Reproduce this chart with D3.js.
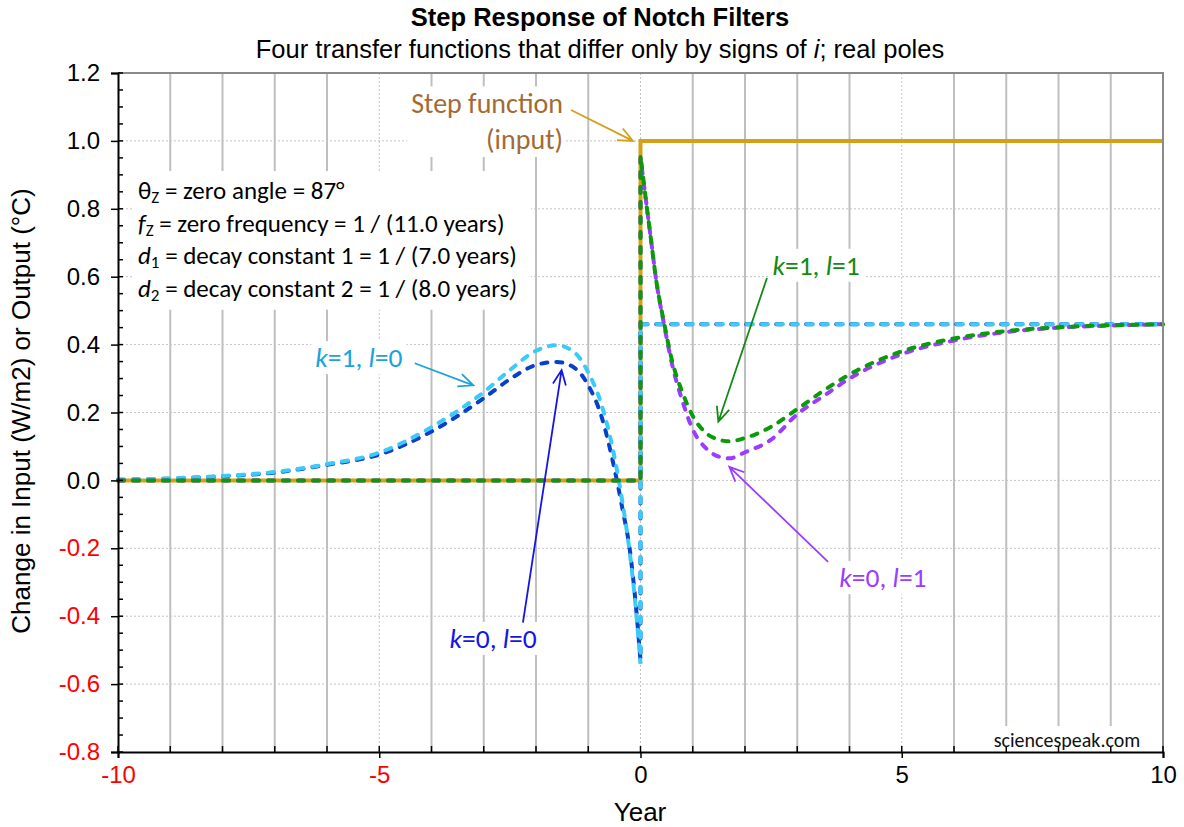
<!DOCTYPE html>
<html>
<head>
<meta charset="utf-8">
<script src="https://cdn.jsdelivr.net/npm/d3@7"></script>
<style>
  body { margin: 0; background: #fff; }
  svg { display: block; }
  .arial { font-family: "Liberation Sans", Arial, sans-serif; }
  .cal { font-family: Carlito, Calibri, Lato, sans-serif; }
</style>
</head>
<body>
<svg id="chart" width="1184" height="827"></svg>
<script>
// step input
var stepYears = [-10, 0, 0, 10];
var stepValues = [0, 0, 1, 1];

// anticausal responses (l = 0): zero before the step is replaced by a run-up
var anticausalYears = [-10, -9, -8, -7, -6, -5, -4, -3, -2.5, -2, -1.6, -1.25, -1, -0.75, -0.5, -0.35, -0.2, -0.1, 0, 0, 10];
var k1l0Values = [0.002, 0.006, 0.013, 0.025, 0.048, 0.082, 0.157, 0.26, 0.325, 0.382, 0.398, 0.375, 0.318, 0.225, 0.07, -0.06, -0.22, -0.36, -0.54, 0.46, 0.46];
var k0l0Values = [0.002, 0.005, 0.012, 0.023, 0.046, 0.076, 0.144, 0.242, 0.298, 0.34, 0.349, 0.33, 0.28, 0.19, 0.035, -0.08, -0.21, -0.35, -0.53, 0.46, 0.46];

// causal responses (l = 1)
var causalYears = [-10, 0, 0, 0.1, 0.2, 0.3, 0.45, 0.6, 0.8, 1, 1.25, 1.5, 1.7, 2, 2.5, 3, 3.5, 4, 5, 6, 7, 8, 9, 10];
var k1l1Values = [0, 0, 0.958, 0.83, 0.71, 0.59, 0.465, 0.355, 0.26, 0.19, 0.14, 0.12, 0.115, 0.125, 0.158, 0.21, 0.264, 0.312, 0.38, 0.418, 0.44, 0.451, 0.457, 0.46];
var k0l1Values = [0, 0, 0.95, 0.83, 0.71, 0.59, 0.46, 0.345, 0.235, 0.15, 0.095, 0.07, 0.065, 0.083, 0.12, 0.195, 0.248, 0.3, 0.372, 0.412, 0.437, 0.45, 0.456, 0.46];

// tick labels
var yTickValues = [-0.8, -0.6, -0.4, -0.2, 0, 0.2, 0.4, 0.6, 0.8, 1.0, 1.2];
var xTickValues = [-10, -5, 0, 5, 10];

// constants
var x = d3.scaleLinear().domain([-10, 10]).range([118, 1163]);
var y = d3.scaleLinear().domain([-0.8, 1.2]).range([752, 73]);

var svg = d3.select("#chart");
var gGrid = svg.append("g");
var gBg = svg.append("g");
var gSeries = svg.append("g");
var gAxes = svg.append("g");
var gNotes = svg.append("g");

// grid
d3.range(-9, 10).filter(function (d) { return d % 5 !== 0; }).forEach(function (d) {
  gGrid.append("line").attr("x1", x(d)).attr("x2", x(d)).attr("y1", y(1.2)).attr("y2", y(-0.8))
    .attr("stroke", "#bfbfbf").attr("stroke-width", 2);
});
[-5, 0, 5].forEach(function (d) {
  gGrid.append("line").attr("x1", x(d)).attr("x2", x(d)).attr("y1", y(1.2)).attr("y2", y(-0.8))
    .attr("stroke", "#c4c4c4").attr("stroke-width", 1).attr("stroke-dasharray", "2,2");
});
yTickValues.slice(1, -1).forEach(function (d) {
  gGrid.append("line").attr("x1", x(-10)).attr("x2", x(10)).attr("y1", y(d)).attr("y2", y(d))
    .attr("stroke", "#c4c4c4").attr("stroke-width", 1).attr("stroke-dasharray", "2,2");
});

// frame (top/right)
gAxes.append("path")
  .attr("d", "M" + x(-10) + "," + y(1.2) + "H" + x(10) + "V" + y(-0.8))
  .attr("fill", "none").attr("stroke", "#8a8a8a").attr("stroke-width", 2);

// series
function buildPath(ts, vs) {
  var pts = ts.map(function (t, i) { return [x(t), y(vs[i])]; });
  var runs = [], cur = [pts[0]];
  for (var i = 1; i < ts.length; i++) {
    if (ts[i] === ts[i - 1]) { runs.push(cur); cur = [pts[i]]; }
    else cur.push(pts[i]);
  }
  runs.push(cur);
  var line = d3.line().curve(d3.curveMonotoneX);
  return runs.map(function (r, i) {
    var s = line(r);
    return i ? s.replace(/^M/, "L") : s;
  }).join("");
}

gSeries.append("path").attr("d", buildPath(stepYears, stepValues))
  .attr("fill", "none").attr("stroke", "#d4a017").attr("stroke-width", 4);

var series = [
  {ts: anticausalYears, vs: k0l0Values, color: "#0a3fc8"},
  {ts: anticausalYears, vs: k1l0Values, color: "#3ccaf8"},
  {ts: causalYears, vs: k0l1Values, color: "#9b3cff"},
  {ts: causalYears, vs: k1l1Values, color: "#0a9a0a"}
];
series.forEach(function (s) {
  gSeries.append("path").attr("d", buildPath(s.ts, s.vs))
    .attr("fill", "none").attr("stroke", s.color).attr("stroke-width", 4)
    .attr("stroke-dasharray", "6,9").attr("stroke-linecap", "round");
});

// axes
var yAxis = d3.axisLeft(y).tickValues(yTickValues).tickSize(7).tickPadding(11)
  .tickFormat(function (d) { return d.toFixed(1); });
var gy = gAxes.append("g").attr("transform", "translate(" + x(-10) + ",0)").call(yAxis);
var xAxis = d3.axisBottom(x).tickValues(xTickValues).tickSize(6).tickPadding(8)
  .tickFormat(function (d) { return String(d); });
var gx = gAxes.append("g").attr("transform", "translate(0," + y(-0.8) + ")").call(xAxis);

[gx, gy].forEach(function (g) {
  g.select(".domain").attr("stroke", "#000").attr("stroke-width", 2);
  g.selectAll(".tick line").attr("stroke", "#000").attr("stroke-width", 1.5);
  g.selectAll(".tick text").attr("class", "arial").style("font-size", "24px")
    .attr("fill", function (d) { return d < 0 ? "#ff0000" : "#000"; });
});

// minor ticks, inside
d3.range(-16, 25).map(function (i) { return i * 0.05; }).forEach(function (d) {
  gAxes.append("line").attr("x1", x(-10)).attr("x2", x(-10) + 5).attr("y1", y(d)).attr("y2", y(d))
    .attr("stroke", "#000").attr("stroke-width", 1.5);
});
d3.range(-10, 11).forEach(function (d) {
  gAxes.append("line").attr("x1", x(d)).attr("x2", x(d)).attr("y1", y(-0.8)).attr("y2", y(-0.8) - 6)
    .attr("stroke", "#000").attr("stroke-width", 1.5);
});

// titles
svg.append("text").attr("class", "arial").attr("x", 600).attr("y", 26)
  .attr("text-anchor", "middle").style("font-size", "25.5px").style("font-weight", "bold")
  .text("Step Response of Notch Filters");
var sub = svg.append("text").attr("class", "arial").attr("x", 600).attr("y", 58)
  .attr("text-anchor", "middle").style("font-size", "25.5px");
sub.append("tspan").text("Four transfer functions that differ only by signs of ");
sub.append("tspan").style("font-style", "italic").text("i");
sub.append("tspan").text("; real poles");

svg.append("text").attr("class", "arial")
  .attr("transform", "translate(30,411) rotate(-90)")
  .attr("text-anchor", "middle").style("font-size", "26px")
  .text("Change in Input (W/m2) or Output (°C)");
svg.append("text").attr("class", "arial").attr("x", 640).attr("y", 821)
  .attr("text-anchor", "middle").style("font-size", "26px").text("Year");

// helper: white box behind a text node
function backdrop(node, pad) {
  var b = node.getBBox();
  gBg.append("rect").attr("x", b.x - pad[3]).attr("y", b.y - pad[0])
    .attr("width", b.width + pad[1] + pad[3]).attr("height", b.height + pad[0] + pad[2])
    .attr("fill", "#fff");
}

// parameter box
var paramLines = [
  [["θ", ""], ["Z", "sub"], [" = zero angle = 87°", ""]],
  [["f", "it"], ["Z", "sub"], [" = zero frequency = 1 / (11.0 years)", ""]],
  [["d", "it"], ["1", "sub"], [" = decay constant 1 = 1 / (7.0 years)", ""]],
  [["d", "it"], ["2", "sub"], [" = decay constant 2 = 1 / (8.0 years", ""], [")", "it"]]
];
var gParam = gNotes.append("g");
paramLines.forEach(function (segs, i) {
  var t = gParam.append("text").attr("class", "cal").attr("x", 138).attr("y", 199 + i * 32.5)
    .style("font-size", "25px").attr("fill", "#000");
  segs.forEach(function (s) {
    var ts = t.append("tspan").text(s[0]);
    if (s[1] === "it") ts.style("font-style", "italic");
    if (s[1] === "sub") ts.attr("baseline-shift", "-25%").style("font-size", "17px");
  });
});
backdrop(gParam.node(), [4, 14, 4, 4]);

// curve labels and arrows
var notes = [
  {k: "1", l: "1", t: 3.36, v: 0.634, color: "#138a13", from: [2.42, 0.596], to: [1.49, 0.173]},
  {k: "1", l: "0", t: -5.39, v: 0.362, color: "#1aa3dc", from: [-4.32, 0.345], to: [-3.2, 0.28]},
  {k: "0", l: "1", t: 4.64, v: -0.286, color: "#9b3cff", from: [3.59, -0.24], to: [1.70, 0.04]},
  {k: "0", l: "0", t: -2.82, v: -0.465, color: "#1515e6", from: [-2.25, -0.419], to: [-1.51, 0.325]}
];

function arrow(g, from, to, color, width) {
  var x0 = x(from[0]), y0 = y(from[1]), x1 = x(to[0]), y1 = y(to[1]);
  var a = Math.atan2(y1 - y0, x1 - x0), len = 16, spread = 0.42;
  var h1 = [x1 - len * Math.cos(a - spread), y1 - len * Math.sin(a - spread)];
  var h2 = [x1 - len * Math.cos(a + spread), y1 - len * Math.sin(a + spread)];
  g.append("path")
    .attr("d", "M" + x0 + "," + y0 + "L" + x1 + "," + y1 + "M" + h1 + "L" + x1 + "," + y1 + "L" + h2)
    .attr("fill", "none").attr("stroke", color).attr("stroke-width", width);
}

notes.forEach(function (n) {
  var t = gNotes.append("text").attr("class", "cal").attr("x", x(n.t)).attr("y", y(n.v))
    .attr("dy", "0.35em").attr("text-anchor", "middle").style("font-size", "27.5px").attr("fill", n.color);
  t.append("tspan").style("font-style", "italic").text("k");
  t.append("tspan").text("=" + n.k + ", ");
  t.append("tspan").style("font-style", "italic").text("l");
  t.append("tspan").text("=" + n.l);
  backdrop(t.node(), [0, 4, 0, 4]);
  arrow(gNotes, n.from, n.to, n.color, 1.8);
});

// step function label
var stepLabel = gNotes.append("g");
stepLabel.append("text").attr("class", "cal").attr("x", 563).attr("y", y(1.11)).attr("dy", "0.35em")
  .attr("text-anchor", "end").style("font-size", "28px").attr("fill", "#a26b33").text("Step function");
stepLabel.append("text").attr("class", "cal").attr("x", 563).attr("y", y(1.005)).attr("dy", "0.35em")
  .attr("text-anchor", "end").style("font-size", "28px").attr("fill", "#a26b33").text("(input)");
backdrop(stepLabel.node(), [0, 2, 0, 4]);
arrow(gNotes, [-1.33, 1.091], [-0.144, 1.0], "#d4a017", 1.8);

// watermark
var wm = gNotes.append("text").attr("class", "cal").attr("x", 1067).attr("y", y(-0.765)).attr("dy", "0.35em")
  .attr("text-anchor", "middle").style("font-size", "20px").attr("fill", "#111").text("sciencespeak.com");
backdrop(wm.node(), [2, 6, 0, 6]);
</script>
</body>
</html>
